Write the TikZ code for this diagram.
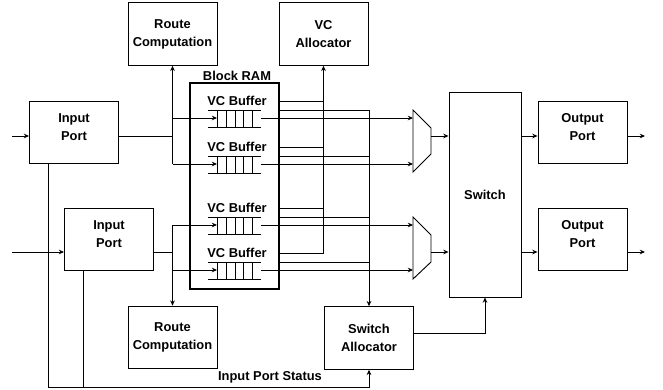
\documentclass[tikz,border=0pt]{standalone}
\usepackage{fontspec}
\setmainfont{Liberation Sans}
\usetikzlibrary{arrows.meta}

\tikzset{
  lbl/.style={font=\bfseries\fontsize{11}{15.5}\selectfont, inner sep=0pt, align=center},
  box/.style={lbl, draw, line width=0.8pt, minimum width=2.67cm, minimum height=1.88cm},
  port/.style={box, text depth=9.5pt},
  lnk/.style={line width=0.8pt},
  arr/.style={lnk, -{Stealth[length=4.5pt,width=4pt]}},
}

\begin{document}
\begin{tikzpicture}[x=0.03cm,y=-0.03cm]
\useasboundingbox (0,0) rectangle (663,390);

 \node[box] (rc1) at (172.5,34)  {Route\\Computation};
 \node[box] (vca) at (323.5,34)  {VC\\Allocator};
 \node[port] (ip1) at (74,132.5)  {Input\\Port};
 \node[port] (ip2) at (109,239.5) {Input\\Port};
 \node[box] (rc2) at (172.5,337.5) {Route\\Computation};
 \node[box] (sa)  at (369,338)   {Switch\\Allocator};
 \node[port] (op1) at (582.5,132.5) {Output\\Port};
 \node[port] (op2) at (582.5,239.5) {Output\\Port};
 \node[box, minimum width=2.16cm, minimum height=6.15cm] (sw) at (485,194.5) {Switch};
 \node[draw, line width=2.2pt, minimum width=2.67cm, minimum height=6.18cm] (bram) at (234.5,186) {};
 \node[lbl] (bramlbl) at (237,76) {Block RAM};
 \node[lbl] (ips) at (270,377) {Input Port Status};

 \foreach \i/\y in {1/101,2/147,3/208,4/253}{
  \node[lbl] (vcb\i) at (237,\y) {VC Buffer};
  \coordinate (qt\i) at (261,\y+9);
  \coordinate (qi\i) at (217,\y+17);
  \coordinate (qo\i) at (261,\y+17);
  \draw[lnk] (208,\y+9) -- (261,\y+9) (208,\y+26) -- (261,\y+26);
  \foreach \c in {217,226,235,243,252} \draw[lnk] (\c,\y+9) -- (\c,\y+26);
 }

 \coordinate (in1) at (12,136);
 \coordinate (in2) at (12,252);
 \coordinate (b1) at (172.5,136);
 \coordinate (b2) at (172.5,252);
 \coordinate (m1) at (431,136);
 \coordinate (m2) at (431,252);
 \coordinate (m1in) at (413,141);
 \coordinate (m2in) at (413,248);
 \coordinate (out1) at (645,136);
 \coordinate (out2) at (645,252);
 \coordinate (s1) at (485,333);
 \coordinate (st1) at (48,387);
 \coordinate (st2) at (83,387);

 \draw[lnk] (413,110) -- (431,128) -- (431,154) -- (413,172) -- cycle;
 \draw[lnk] (413,217) -- (431,235) -- (431,262) -- (413,279) -- cycle;

 \draw[arr] (in1) -- (ip1.west |- in1);
 \draw[arr] (in2) -- (ip2.west |- in2);
 \draw[lnk] (ip1.east |- b1) -- (b1);
 \draw[lnk] (ip2.east |- b2) -- (b2);
 \draw[arr] (b1 |- qi2) -- (rc1.south);
 \draw[arr] (b2 |- qi3) -- (rc2.north);
 \draw[arr] (b1 |- qi1) -- (qi1);
 \draw[arr] (b1 |- qi2) -- (qi2);
 \draw[arr] (b2 |- qi3) -- (qi3);
 \draw[arr] (b2 |- qi4) -- (qi4);

 \draw[arr] (qo1) -- (qo1 -| m1in);
 \draw[arr] (qo2) -- (qo2 -| m1in);
 \draw[arr] (qo3) -- (qo3 -| m2in);
 \draw[arr] (qo4) -- (qo4 -| m2in);

 \foreach \i in {1,...,4}{
  \draw[lnk] (bram.east |- vcb\i) -- (vca.south |- vcb\i);
  \draw[lnk] (bram.east |- qt\i) -- (sa.north |- qt\i);
 }
 \draw[arr] (vca.south |- vcb4) -- (vca.south);
 \draw[arr] (sa.north |- qt1) -- (sa.north);

 \draw[arr] (m1) -- (sw.west |- m1);
 \draw[arr] (m2) -- (sw.west |- m2);
 \draw[arr] (sw.east |- m1) -- (op1.west |- m1);
 \draw[arr] (sw.east |- m2) -- (op2.west |- m2);
 \draw[arr] (op1.east |- out1) -- (out1);
 \draw[arr] (op2.east |- out2) -- (out2);

 \draw[arr] (sa.east |- s1) -| (sw.south);
 \draw[arr] (st1 |- ip1.south) -- (st1) -| (sa.south);
 \draw[lnk] (st2 |- ip2.south) -- (st2);
\end{tikzpicture}
\end{document}
